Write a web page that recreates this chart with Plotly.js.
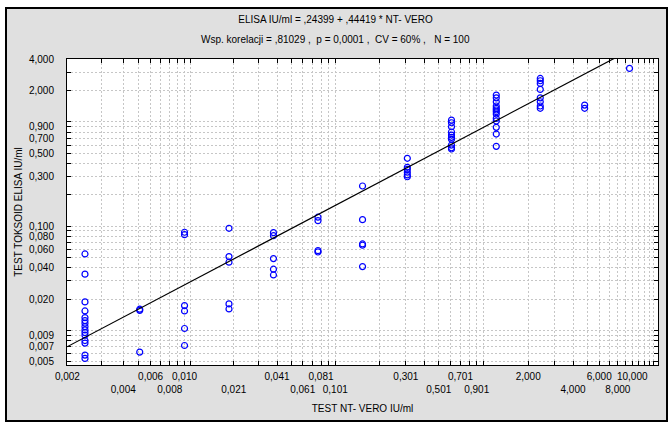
<!DOCTYPE html>
<html>
<head>
<meta charset="utf-8">
<script src="https://cdn.plot.ly/plotly-3.0.1.min.js"></script>
<style>
  html, body { margin:0; padding:0; background:#ffffff; }
  #frame { position:absolute; left:5px; top:7px; width:663px; height:415px; box-sizing:border-box; border:2px solid #000; background:#e0e0e0; }
  #chart { position:absolute; left:0; top:0; width:671px; height:425px; }
</style>
</head>
<body>
<div id="frame"></div>
<div id="chart"></div>
<script>
// ---- data ----
const ntLevels = [0.0021, 0.0049, 0.0098, 0.0195, 0.0388, 0.0773, 0.154, 0.308, 0.61, 1.22, 2.41, 4.79, 9.59];
const elisaByLevel = [
  [0.0542, 0.0347, 0.0188, 0.0154, 0.0133, 0.01245, 0.01175, 0.0109, 0.01014, 0.00955, 0.00902, 0.00801, 0.00757, 0.00581, 0.0054],
  [0.0160, 0.0156, 0.00621],
  [0.0875, 0.0830, 0.01734, 0.0154, 0.01045, 0.00718],
  [0.0955, 0.0511, 0.0452, 0.0180, 0.0161],
  [0.0867, 0.0811, 0.0489, 0.0387, 0.0341],
  [0.122, 0.113, 0.0583, 0.0566],
  [0.243, 0.1156, 0.0676, 0.0657, 0.0410],
  [0.448, 0.367, 0.351, 0.329, 0.310, 0.298],
  [1.04, 0.982, 0.899, 0.80, 0.748, 0.711, 0.681, 0.600, 0.565, 0.55],
  [1.81, 1.70, 1.56, 1.42, 1.35, 1.30, 1.25, 1.19, 1.08, 1.02, 0.887, 0.765, 0.583],
  [2.61, 2.48, 2.34, 2.05, 1.70, 1.56, 1.42, 1.35],
  [1.45, 1.35],
  [3.26]
];
// regression line in log-log space: log10(y) = a + b*log10(x)
const fitA = -0.052;
const fitB = 0.752;

const titleLine1 = 'ELISA IU/ml = ,24399 + ,44419 * NT- VERO';
const titleLine2 = 'Wsp. korelacji = ,81029 ,  p = 0,0001 ,  CV = 60% ,   N = 100';
const xTitle = 'TEST NT- VERO IU/ml';
const yTitle = 'TEST TOKSOID ELISA IU/ml';

// x axis grid/tick positions and labels (two staggered rows)
const xGridVals = [0.0016, 0.0027, 0.0038, 0.0048, 0.0058, 0.0068, 0.0078, 0.0088, 0.0098, 0.0108,
  0.021, 0.031, 0.041, 0.051, 0.061, 0.071, 0.081, 0.091, 0.101,
  0.201, 0.301, 0.401, 0.501, 0.601, 0.701, 0.801, 0.901, 1.001,
  2, 3, 4, 5, 6, 7, 8, 9, 10, 11, 12, 13, 14];
const xRow1Vals = [0.0016, 0.0058, 0.0098, 0.041, 0.081, 0.301, 0.701, 2, 6, 10];
const xRow1Text = ['0,002', '0,006', '0,010', '0,041', '0,081', '0,301', '0,701', '2,000', '6,000', '10,000'];
const xRow2Vals = [0.0038, 0.0078, 0.021, 0.061, 0.101, 0.501, 0.901, 4, 8];
const xRow2Text = ['0,004', '0,008', '0,021', '0,061', '0,101', '0,501', '0,901', '4,000', '8,000'];

// y axis grid/tick positions and labels
const yGridVals = [4, 3, 2, 1, 0.9, 0.8, 0.7, 0.6, 0.5, 0.4, 0.3, 0.2,
  0.1, 0.09, 0.08, 0.07, 0.06, 0.05, 0.04, 0.03, 0.02,
  0.01, 0.009, 0.008, 0.007, 0.006, 0.005];
const yLabelVals = [4, 2, 0.9, 0.7, 0.5, 0.3, 0.1, 0.08, 0.06, 0.04, 0.02, 0.009, 0.007, 0.005];
const yLabelText = ['4,000', '2,000', '0,900', '0,700', '0,500', '0,300', '0,100', '0,080', '0,060', '0,040', '0,020', '0,009', '0,007', '0,005'];

// ---- build ----
const xs = [], ys = [];
ntLevels.forEach((lv, i) => elisaByLevel[i].forEach(v => { xs.push(lv); ys.push(v); }));

const xRange = [Math.log10(0.00159), Math.log10(14.9)];
const yRange = [Math.log10(0.00467), Math.log10(4.01)];

const fitX = [0.00159, 14.9];
const fitY = fitX.map(x => Math.pow(10, fitA + fitB * Math.log10(x)));

const xTickText = xGridVals.map(v => { const k = xRow1Vals.indexOf(v); return k >= 0 ? xRow1Text[k] : ''; });
const yTickText = yGridVals.map(v => { const k = yLabelVals.indexOf(v); return k >= 0 ? yLabelText[k] : ''; });

const font = 'Liberation Sans, Arial, sans-serif';

const traces = [
  { x: fitX, y: fitY, xaxis: 'x2', yaxis: 'y', mode: 'lines', type: 'scatter',
    line: { color: '#000000', width: 1.2 }, hoverinfo: 'skip' },
  { x: xs, y: ys, mode: 'markers', type: 'scatter',
    marker: { symbol: 'circle-open', size: 6, color: '#0000ff', line: { width: 1.2, color: '#0000ff' } } }
];

const gridStyle = { showgrid: true, gridcolor: '#c6c6c6', gridwidth: 1, griddash: '2px,2px' };

const layout = {
  width: 671, height: 425,
  margin: { l: 67, r: 13, t: 59, b: 60, pad: 0 },
  paper_bgcolor: 'rgba(0,0,0,0)', plot_bgcolor: '#ffffff',
  showlegend: false,
  font: { family: font, size: 10, color: '#000000' },
  title: { text: titleLine1, xref: 'container', x: 0.5, xanchor: 'center', yref: 'container', y: 1 - 19 / 425, yanchor: 'middle',
    font: { family: font, size: 10, color: '#000000' } },
  annotations: [
    { text: titleLine2, xref: 'paper', yref: 'paper', x: (335.5 - 67) / 591, y: (365 - 39) / 306,
      xanchor: 'center', yanchor: 'middle', showarrow: false, font: { family: font, size: 10, color: '#000000' } }
  ],
  xaxis: Object.assign({
    type: 'log', range: xRange, autorange: false,
    tickmode: 'array', tickvals: xGridVals, ticktext: xTickText,
    ticks: 'inside', ticklen: 4, tickwidth: 1, tickcolor: '#000000',
    showline: true, linecolor: '#000000', linewidth: 1, mirror: 'ticks',
    zeroline: false, ticklabelstandoff: 2, automargin: false,
    tickfont: { family: font, size: 10, color: '#000000' },
    title: { text: xTitle, standoff: 23, font: { family: font, size: 10, color: '#000000' } }
  }, gridStyle),
  xaxis2: {
    type: 'log', range: xRange, autorange: false, overlaying: 'x', anchor: 'y', side: 'bottom',
    tickmode: 'array', tickvals: xRow2Vals, ticktext: xRow2Text,
    ticks: '', showgrid: false, showline: false, zeroline: false,
    ticklabelstandoff: 17, automargin: false,
    tickfont: { family: font, size: 10, color: '#000000' }
  },
  yaxis: Object.assign({
    type: 'log', range: yRange, autorange: false,
    tickmode: 'array', tickvals: yGridVals, ticktext: yTickText,
    ticks: 'inside', ticklen: 4, tickwidth: 1, tickcolor: '#000000',
    showline: true, linecolor: '#000000', linewidth: 1, mirror: 'ticks',
    zeroline: false, ticklabelstandoff: 10, automargin: false,
    tickfont: { family: font, size: 10, color: '#000000' },
    title: { text: yTitle, standoff: 4, font: { family: font, size: 10, color: '#000000' } }
  }, gridStyle)
};

Plotly.newPlot('chart', traces, layout, { displayModeBar: false, staticPlot: true });
</script>
</body>
</html>
